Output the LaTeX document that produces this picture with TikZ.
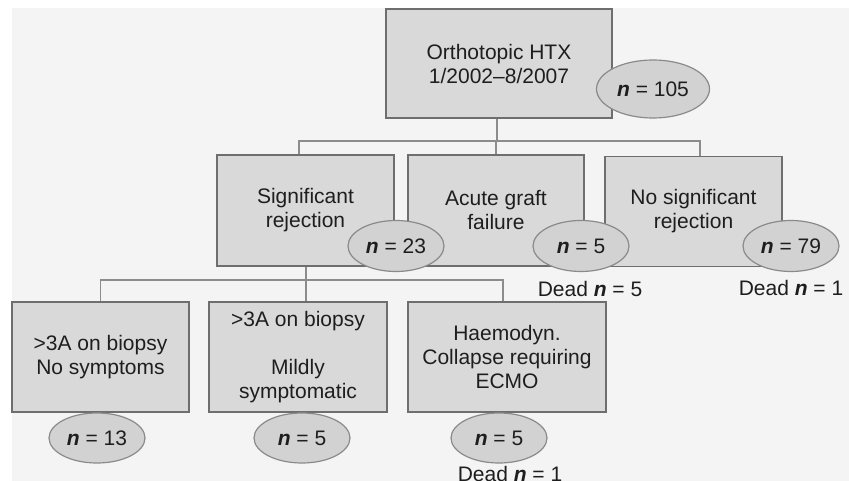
\documentclass[tikz,border=0pt]{standalone}
\usepackage{fontspec}
\setmainfont{Liberation Sans}
\usetikzlibrary{shapes.geometric,calc}
\definecolor{bgc}{HTML}{F4F4F4}
\definecolor{boxfill}{HTML}{D9D9D9}
\definecolor{boxline}{HTML}{6E6E6E}
\definecolor{ellfill}{HTML}{D2D2D2}
\definecolor{ellline}{HTML}{8A8A8A}
\definecolor{connc}{HTML}{8C8C8C}
\definecolor{txt}{HTML}{1E1E1E}
\newcommand\nbi{\textbf{\textit{n}}}
\begin{document}
\begin{tikzpicture}[x=1pt,y=-1pt,
  box/.style={draw=boxline, fill=boxfill, line width=1.8pt, inner sep=0pt, align=center, text=txt, font=\fontsize{21}{24}\selectfont},
  cnt/.style={ellipse, draw=ellline, fill=ellfill, line width=1.2pt, minimum width=96pt, minimum height=51pt, inner sep=0pt, text=txt, font=\fontsize{21}{24}\selectfont},
  lbl/.style={inner sep=0pt, text=txt, font=\fontsize{21}{24}\selectfont},
  conn/.style={draw=connc, line width=1.5pt}]
\useasboundingbox (0,0) rectangle (849,481);
\fill[bgc] (12,8) rectangle (849,481);
% level 0
\node[box, minimum width=226pt, minimum height=109pt] (top) at (499,63.5) {Orthotopic HTX\\1/2002\textendash8/2007};
% level 1
\node[box, minimum width=177pt, minimum height=111pt] (sig) at (305.5,210.5) {Significant\\rejection};
\node[box, minimum width=176pt, minimum height=111pt] (acute) at (496,210.5) {Acute graft\\failure};
\node[box, minimum width=177pt, minimum height=110pt] (nosig) at (693.5,211.5) {No significant\\rejection};
% level 2
\node[box, minimum width=177pt, minimum height=110pt] (bA) at (100.5,357) {>3A on biopsy\\No symptoms};
\node[box, minimum width=178pt, minimum height=110pt] (bB) at (298,357) {>3A on biopsy\\[24pt]Mildly\\symptomatic};
\node[box, minimum width=198pt, minimum height=110pt] (bC) at (507,357) {Haemodyn.\\Collapse requiring\\ECMO};
% connectors
\coordinate (j1) at (497,141);
\draw[conn] (top.south -| j1) -- (j1);
\draw[conn] ($(sig.north)+(-6.5,0)$) |- (j1) -| ($(nosig.north)+(6.5,0)$);
\draw[conn] (acute.north) -- (acute.north |- j1);
\coordinate (j2) at (306,280);
\draw[conn] (sig.south -| j2) -- (bB.north -| j2);
\draw[conn] (bA.north) |- (j2) -| ($(bC.north)+(-4,0)$);
% counts
\node[cnt, minimum width=113pt, minimum height=58pt] (e105) at (653,89) {\nbi{} = 105};
\node[cnt] (e23) at (396,246) {\nbi{} = 23};
\node[cnt] (e5a) at (581,246) {\nbi{} = 5};
\node[cnt] (e79) at (791,246) {\nbi{} = 79};
\node[cnt, minimum height=50pt] (e13) at (97,438) {\nbi{} = 13};
\node[cnt, minimum height=50pt] (e5b) at (302,438) {\nbi{} = 5};
\node[cnt, minimum height=50pt] (e5c) at (499,438) {\nbi{} = 5};
% dead labels
\node[lbl] (d1) at (590,289) {Dead \nbi{} = 5};
\node[lbl] (d2) at (791,288) {Dead \nbi{} = 1};
\node[lbl] (d3) at (510,474) {Dead \nbi{} = 1};
\end{tikzpicture}
\end{document}
